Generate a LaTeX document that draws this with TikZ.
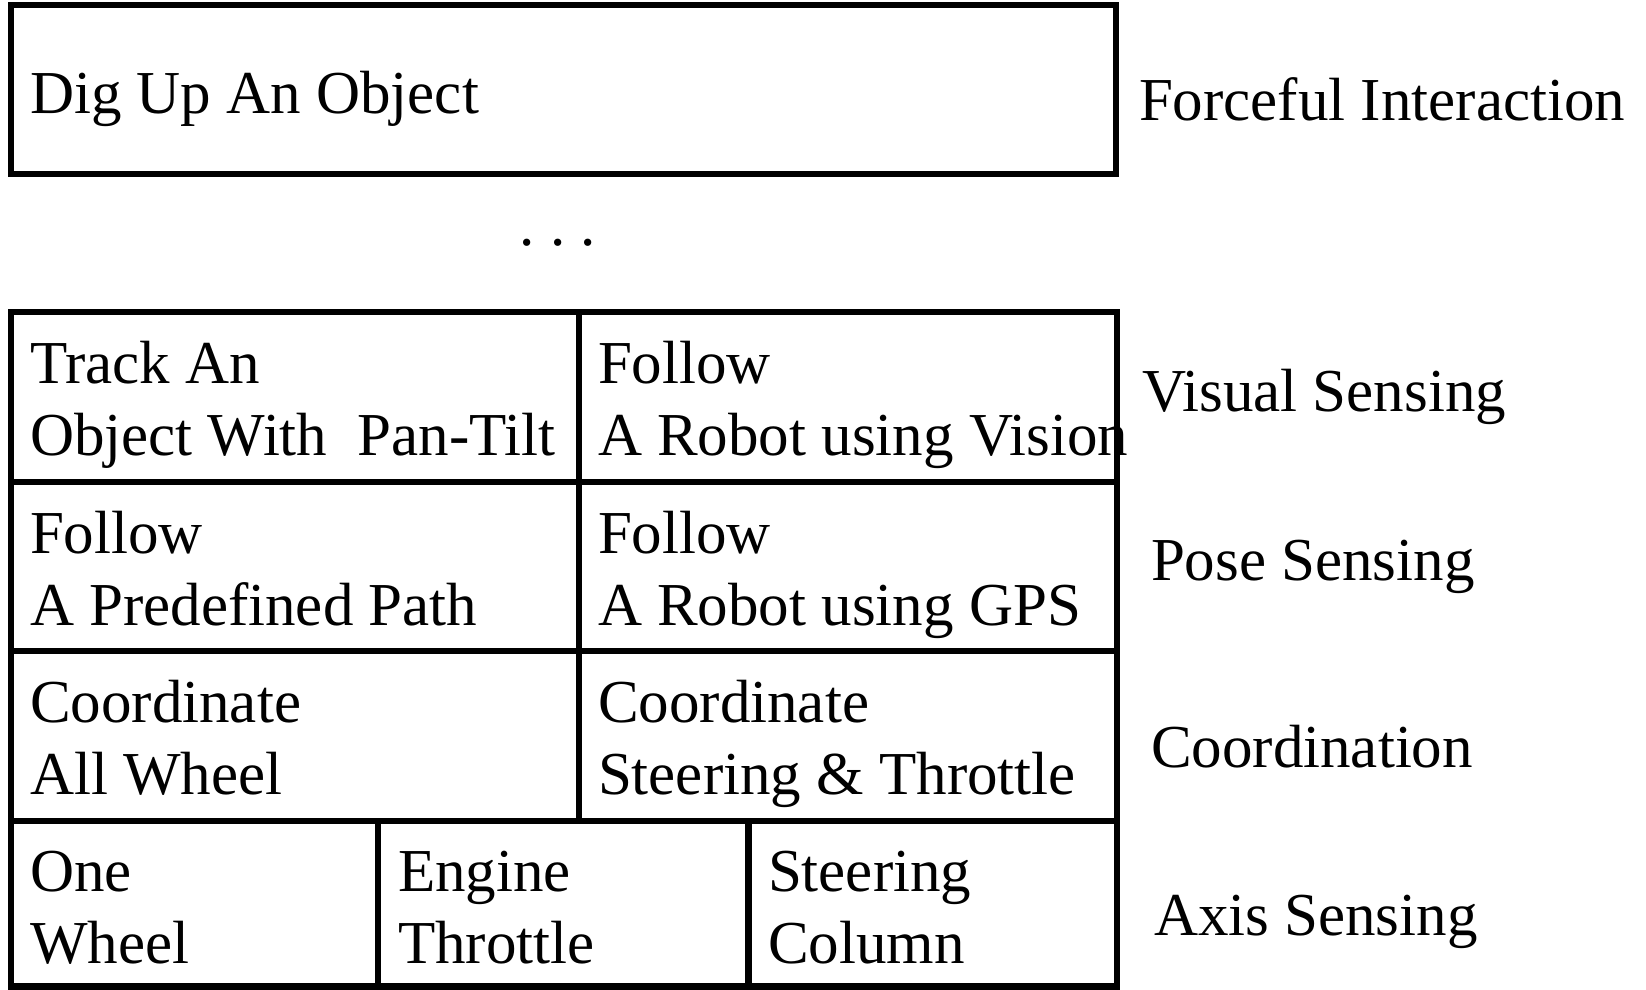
\documentclass[tikz,border=0pt]{standalone}
\usepackage{fontspec}
\setmainfont{Liberation Serif}

% two stacked lines; the box baseline is the baseline of the first line
\newcommand{\twolines}[2]{\vtop{\baselineskip=72.5pt\hbox{#1}\hbox{#2}}}

\begin{document}
\begin{tikzpicture}[x=1pt, y=-1pt,
  txt/.style={inner sep=0pt, outer sep=0pt, anchor=base west,
              font=\fontsize{61}{72.5}\selectfont},
  topframe/.style={draw=black, line width=5.5pt},
  grid/.style={draw=black, line width=6.5pt},
]
\useasboundingbox (0,0) rectangle (1646,990);

% ---- top level: forceful interaction ----
\draw[topframe] (11,5) rectangle (1116,174);
\node[txt] (dig) at (30,113) {Dig Up An Object};
\node[txt] (lforce) at (1139,120) {Forceful Interaction};

% ---- ellipsis between the levels ----
\node[txt] (dots) at (519.5,245) {\frenchspacing . . .};

% ---- lower levels: table of skills ----
\draw[grid] (11,312) rectangle (1117,986.5);
\draw[grid] (11,482) -- (1117,482);
\draw[grid] (11,651) -- (1117,651);
\draw[grid] (11,821) -- (1117,821);
\draw[grid] (579,312) -- (579,821);
\draw[grid] (378,821) -- (378,986.5);
\draw[grid] (748.5,821) -- (748.5,986.5);

% row 1
\node[txt] (trackobj) at (30,383) {\twolines{Track An}{Object With\ \ Pan-Tilt}};
\node[txt] (followvis) at (598,383) {\twolines{Follow}{A Robot using Vision}};
% row 2
\node[txt] (followpath) at (30,553) {\twolines{Follow}{A Predefined Path}};
\node[txt] (followgps) at (598,553) {\twolines{Follow}{A Robot using GPS}};
% row 3
\node[txt] (coordwheel) at (30,722) {\twolines{Coordinate}{All Wheel}};
\node[txt] (coordsteer) at (598,722) {\twolines{Coordinate}{Steering \& Throttle}};
% row 4
\node[txt] (onewheel) at (30,891) {\twolines{One}{Wheel}};
\node[txt] (engine) at (398,891) {\twolines{Engine}{Throttle}};
\node[txt] (steercol) at (768,891) {\twolines{Steering}{Column}};

% ---- level names ----
\node[txt] (lvisual) at (1142,411) {Visual Sensing};
\node[txt] (lpose) at (1151,580) {Pose Sensing};
\node[txt] (lcoord) at (1151,767) {Coordination};
\node[txt] (laxis) at (1154,935) {Axis Sensing};
\end{tikzpicture}
\end{document}
